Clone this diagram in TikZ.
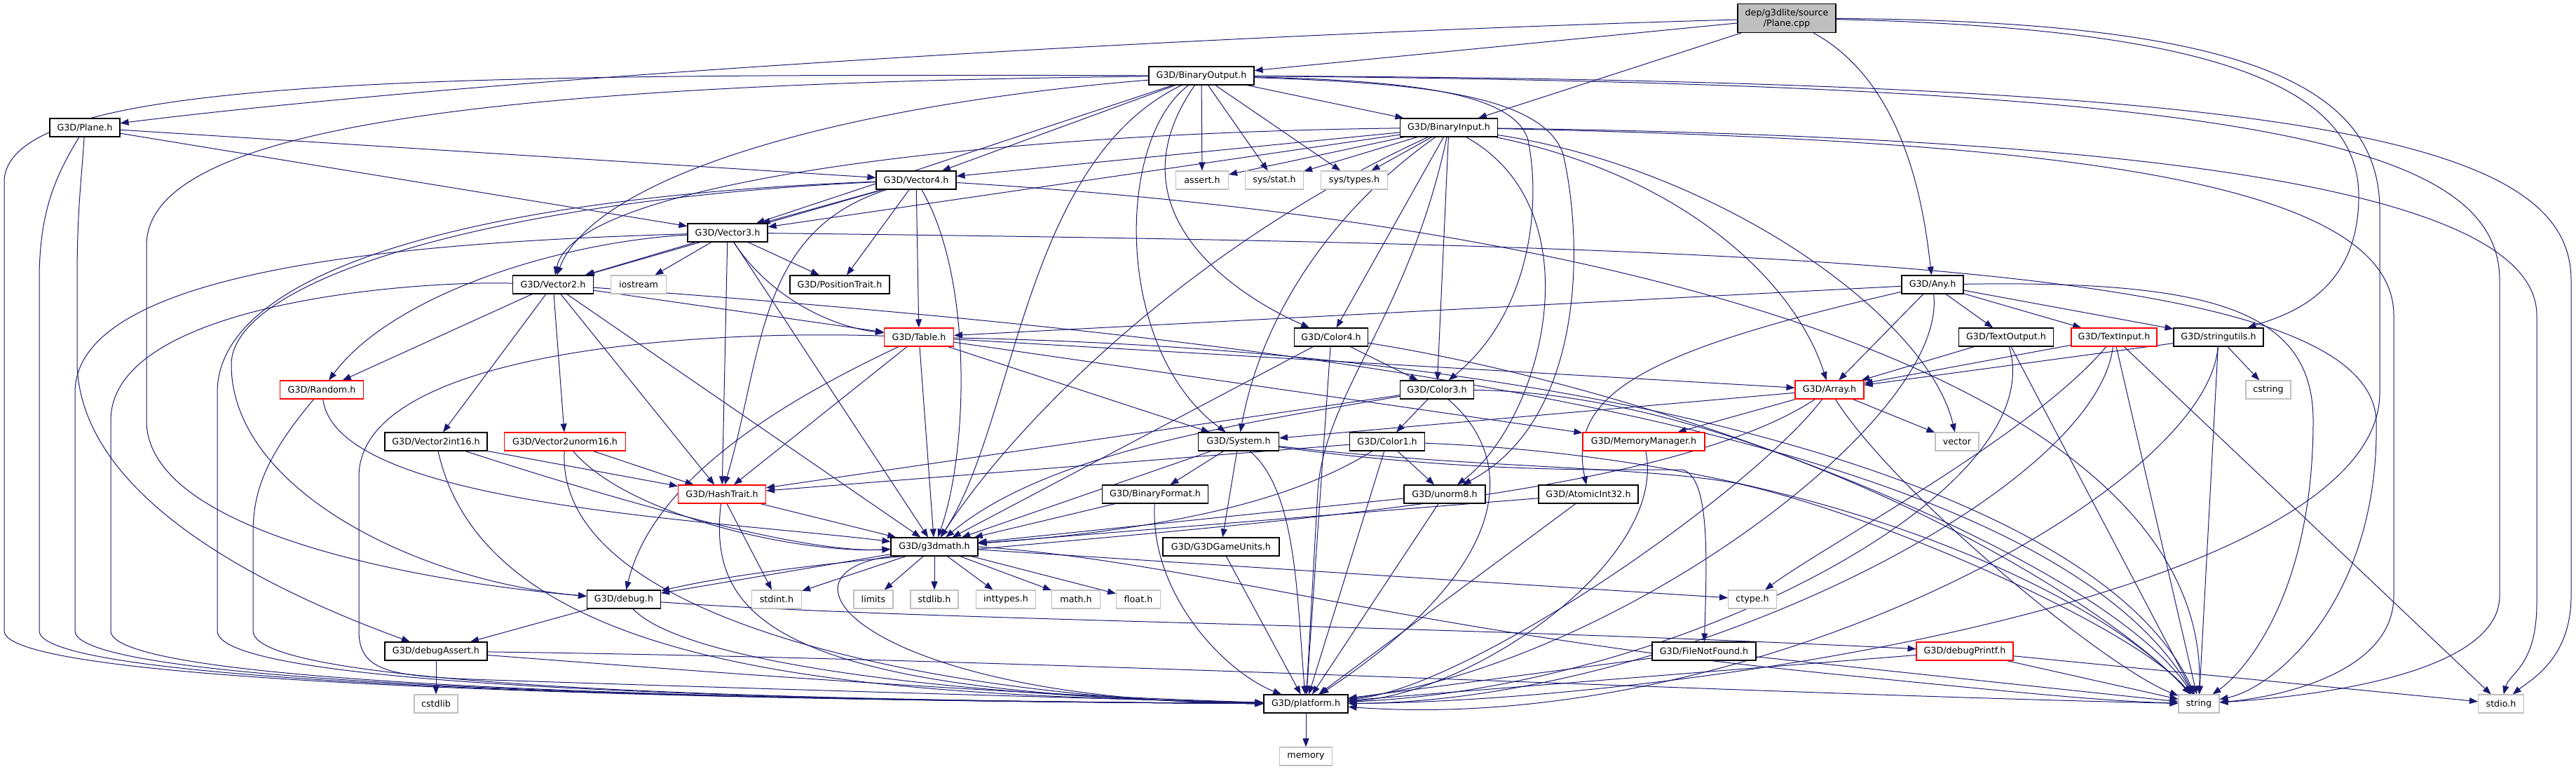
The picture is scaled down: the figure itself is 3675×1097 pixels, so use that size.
\documentclass[tikz,border=0pt]{standalone}
\usepackage{fontspec}
\setmainfont{DejaVu Sans}
\usetikzlibrary{arrows.meta}
\definecolor{edgec}{HTML}{191970}
\definecolor{lgray}{HTML}{BFBFBF}
\pgfdeclarelayer{edgelayer}
\pgfsetlayers{edgelayer,main}
\tikzset{
  nd/.style={draw=black, fill=white, line width=1.1pt, minimum height=26pt, inner sep=0pt, font=\fontsize{12.7}{15}\selectfont, text=black},
  rednd/.style={nd, draw=red},
  sysnd/.style={nd, draw=lgray},
  rootnd/.style={nd, fill=lgray, align=center, minimum height=41pt},
  e/.style={draw=edgec, line width=1pt, -{Triangle[length=12pt,width=9pt]}},
}
\newcommand{\mknode}[6]{\node[#1, minimum width=#5pt] (#2) at (#3,#4) {#6};}
\begin{document}
\begin{tikzpicture}[x=1pt,y=-1pt]
\useasboundingbox (0,0) rectangle (3675,1097);
% ---------------- nodes
\mknode{rootnd}{cpp}{2549}{26}{140}{dep/g3dlite/source\\/Plane.cpp}
\mknode{nd}{bout}{1714}{108}{150}{G3D/BinaryOutput.h}
\mknode{nd}{bin}{2067}{182}{139}{G3D/BinaryInput.h}
\mknode{nd}{planeh}{121}{182}{100}{G3D/Plane.h}
\mknode{nd}{v4}{1307}{257}{114}{G3D/Vector4.h}
\mknode{sysnd}{assert}{1715}{257}{75}{assert.h}
\mknode{sysnd}{sysstat}{1818}{257}{83}{sys/stat.h}
\mknode{sysnd}{systypes}{1932}{257}{95}{sys/types.h}
\mknode{nd}{v3}{1038}{332}{114}{G3D/Vector3.h}
\mknode{nd}{v2}{789}{406}{115}{G3D/Vector2.h}
\mknode{sysnd}{iostream}{911}{406}{79}{iostream}
\mknode{nd}{postrait}{1198}{406}{142}{G3D/PositionTrait.h}
\mknode{nd}{any}{2757}{406}{88}{G3D/Any.h}
\mknode{rednd}{table}{1311}{481}{99}{G3D/Table.h}
\mknode{nd}{c4}{1899}{481}{105}{G3D/Color4.h}
\mknode{nd}{textout}{2862}{481}{135}{G3D/TextOutput.h}
\mknode{rednd}{textin}{3016}{481}{122}{G3D/TextInput.h}
\mknode{nd}{strutil}{3165}{481}{128}{G3D/stringutils.h}
\mknode{rednd}{random}{459}{556}{119}{G3D/Random.h}
\mknode{nd}{c3}{2050}{556}{105}{G3D/Color3.h}
\mknode{rednd}{array}{2610}{556}{98}{G3D/Array.h}
\mknode{sysnd}{cstring}{3236}{556}{64}{cstring}
\mknode{nd}{v2i16}{622}{630}{146}{G3D/Vector2int16.h}
\mknode{rednd}{v2u16}{806}{630}{173}{G3D/Vector2unorm16.h}
\mknode{nd}{system}{1767}{630}{115}{G3D/System.h}
\mknode{nd}{c1}{1979}{630}{107}{G3D/Color1.h}
\mknode{rednd}{memmgr}{2345}{630}{174}{G3D/MemoryManager.h}
\mknode{sysnd}{vector}{2792}{630}{62}{vector}
\mknode{rednd}{hash}{1030}{705}{125}{G3D/HashTrait.h}
\mknode{nd}{binfmt}{1648}{705}{151}{G3D/BinaryFormat.h}
\mknode{nd}{unorm8}{2061}{705}{116}{G3D/unorm8.h}
\mknode{nd}{atomic}{2266}{705}{142}{G3D/AtomicInt32.h}
\mknode{nd}{g3dmath}{1333}{780}{124}{G3D/g3dmath.h}
\mknode{nd}{gameunits}{1742}{780}{166}{G3D/G3DGameUnits.h}
\mknode{nd}{debug}{890}{855}{105}{G3D/debug.h}
\mknode{sysnd}{stdint}{1108}{855}{71}{stdint.h}
\mknode{sysnd}{limits}{1246}{855}{56}{limits}
\mknode{sysnd}{stdlib}{1333}{855}{68}{stdlib.h}
\mknode{sysnd}{inttypes}{1435}{855}{85}{inttypes.h}
\mknode{sysnd}{math}{1535}{855}{69}{math.h}
\mknode{sysnd}{float}{1624}{855}{63}{float.h}
\mknode{sysnd}{ctype}{2500}{855}{69}{ctype.h}
\mknode{nd}{debugassert}{622}{929}{146}{G3D/debugAssert.h}
\mknode{nd}{filenotfound}{2431}{929}{148}{G3D/FileNotFound.h}
\mknode{rednd}{debugprintf}{2803}{929}{138}{G3D/debugPrintf.h}
\mknode{nd}{platform}{1863}{1004}{120}{G3D/platform.h}
\mknode{sysnd}{cstdlib}{622}{1004}{62}{cstdlib}
\mknode{sysnd}{string}{3137}{1004}{58}{string}
\mknode{sysnd}{stdio}{3568}{1004}{65}{stdio.h}
\mknode{sysnd}{memory}{1863}{1079}{75}{memory}
% ---------------- edges
\begin{pgfonlayer}{edgelayer}
% Plane.cpp
\draw[e] (cpp) .. controls (1700,50) and (700,110) .. (planeh);
\draw[e] (cpp) -- (bout);
\draw[e] (cpp) -- (bin);
\draw[e] (cpp) .. controls (2720,120) and (2745,300) .. (any);
\draw[e] (cpp) .. controls (3150,40) and (3365,120) .. (3365,280) .. controls (3365,420) and (3260,450) .. (strutil);
\draw[e] (cpp) .. controls (3200,30) and (3395,120) .. (3395,300) -- (3395,560) .. controls (3395,850) and (2400,1000) .. (platform);
% Plane.h
\draw[e] (planeh) -- (v3);
\draw[e] (planeh) -- (v4);
\draw[e] (planeh) .. controls (80,250) and (56,300) .. (56,400) -- (56,900) .. controls (56,985) and (1200,1000) .. (platform);
\draw[e] (planeh) .. controls (116,260) and (110,300) .. (110,400) -- (110,520) .. controls (115,700) and (350,830) .. (debugassert);
% BinaryOutput
\draw[e] (bout) -- (bin);
\draw[e] (bout) -- (assert);
\draw[e] (bout) -- (sysstat);
\draw[e] (bout) -- (systypes);
\draw[e] (bout) -- (v4);
\draw[e] (bout) -- (v3);
\draw[e] (bout) .. controls (1200,150) and (850,250) .. (v2);
\draw[e] (bout) .. controls (1580,300) and (1760,420) .. (c4);
\draw[e] (bout) .. controls (2000,115) and (2160,130) .. (2180,200) .. controls (2200,300) and (2180,450) .. (c3);
\draw[e] (bout) .. controls (2000,118) and (2200,130) .. (2230,220) .. controls (2260,350) and (2260,600) .. (unorm8);
\draw[e] (bout) .. controls (1590,200) and (1590,500) .. (system);
\draw[e] (bout) .. controls (1460,230) and (1450,600) .. (g3dmath);
\draw[e] (bout) .. controls (700,120) and (209,180) .. (209,350) -- (209,600) .. controls (209,760) and (600,830) .. (debug);
\draw[e] (bout) .. controls (600,105) and (6,110) .. (6,260) -- (6,900) .. controls (6,985) and (1200,1000) .. (platform);
\draw[e] (bout) .. controls (3200,120) and (3566,200) .. (3566,400) -- (3566,850) .. controls (3566,950) and (3350,990) .. (string);
\draw[e] (bout) .. controls (3300,115) and (3668,200) .. (3668,400) -- (3668,850) .. controls (3668,940) and (3610,970) .. (stdio);
% BinaryInput
\draw[e] (bin) -- (assert);
\draw[e] (bin) -- (sysstat);
\draw[e] (bin) -- (systypes);
\draw[e] (bin) .. controls (2450,240) and (2750,450) .. (vector);
\draw[e] (bin) .. controls (3000,195) and (3619,260) .. (3619,450) -- (3619,860) .. controls (3619,950) and (3580,960) .. (stdio);
\draw[e] (bin) .. controls (2900,200) and (3415,250) .. (3415,450) -- (3415,850) .. controls (3415,960) and (3250,995) .. (string);
\draw[e] (bin) .. controls (2010,450) and (1890,560) .. (1880,700) -- (platform);
\draw[e] (bin) .. controls (2280,300) and (2200,600) .. (unorm8);
\draw[e] (bin) .. controls (2400,250) and (2560,400) .. (array);
\draw[e] (bin) -- (c4);
\draw[e] (bin) -- (c3);
\draw[e] (bin) -- (v4);
\draw[e] (bin) -- (v3);
\draw[e] (bin) .. controls (1400,190) and (820,260) .. (v2);
\draw[e] (bin) .. controls (1700,350) and (1450,600) .. (g3dmath);
\draw[e] (bin) .. controls (1900,300) and (1800,450) .. (system);
% Vector4
\draw[e] (v4) -- (v3);
\draw[e] (v4) -- (v2);
\draw[e] (v4) -- (table);
\draw[e] (v4) .. controls (1080,330) and (1090,500) .. (hash);
\draw[e] (v4) -- (postrait);
\draw[e] (v4) .. controls (1390,400) and (1380,650) .. (g3dmath);
\draw[e] (v4) .. controls (700,280) and (310,380) .. (310,560) -- (310,900) .. controls (310,985) and (1200,1000) .. (platform);
\draw[e] (v4) .. controls (700,285) and (330,400) .. (330,520) .. controls (330,700) and (600,830) .. (debug);
\draw[e] (v4) .. controls (2500,330) and (3150,600) .. (string);
% Vector3
\draw[e] (v3) -- (v2);
\draw[e] (v3) -- (iostream);
\draw[e] (v3) -- (postrait);
\draw[e] (v3) .. controls (1095,420) and (1180,465) .. (table);
\draw[e] (v3) -- (hash);
\draw[e] (v3) -- (g3dmath);
\draw[e] (v3) .. controls (800,345) and (560,420) .. (random);
\draw[e] (v3) .. controls (600,345) and (107,380) .. (107,560) -- (107,900) .. controls (107,985) and (1200,1000) .. (platform);
\draw[e] (v3) .. controls (2600,350) and (3380,380) .. (3390,600) .. controls (3395,850) and (3250,980) .. (string);
% Vector2
\draw[e] (v2) -- (random);
\draw[e] (v2) -- (v2i16);
\draw[e] (v2) -- (v2u16);
\draw[e] (v2) -- (hash);
\draw[e] (v2) -- (g3dmath);
\draw[e] (v2) -- (table);
\draw[e] (v2) .. controls (600,400) and (158,430) .. (158,600) -- (158,900) .. controls (158,985) and (1200,1000) .. (platform);
\draw[e] (v2) .. controls (1800,480) and (2900,600) .. (string);
% Random
\draw[e] (random) .. controls (480,720) and (1000,740) .. (g3dmath);
\draw[e] (random) .. controls (380,650) and (361,700) .. (361,760) -- (361,900) .. controls (361,985) and (1200,1000) .. (platform);
% Vector2int16 / unorm16
\draw[e] (v2i16) -- (hash);
\draw[e] (v2i16) .. controls (900,720) and (1150,790) .. (g3dmath);
\draw[e] (v2i16) .. controls (700,980) and (1300,990) .. (platform);
\draw[e] (v2u16) -- (hash);
\draw[e] (v2u16) .. controls (900,740) and (1150,790) .. (g3dmath);
\draw[e] (v2u16) .. controls (790,900) and (1400,1000) .. (platform);
% Table
\draw[e] (table) -- (array);
\draw[e] (table) .. controls (1100,580) and (930,690) .. (debug);
\draw[e] (table) -- (system);
\draw[e] (table) -- (g3dmath);
\draw[e] (table) -- (hash);
\draw[e] (table) -- (memmgr);
\draw[e] (table) .. controls (2300,500) and (3000,700) .. (string);
\draw[e] (table) .. controls (1000,470) and (512,500) .. (512,680) -- (512,900) .. controls (512,960) and (560,965) .. (700,970) .. controls (1000,980) and (1500,995) .. (platform);
% Color4 / Color3 / Color1
\draw[e] (c4) -- (c3);
\draw[e] (c4) -- (g3dmath);
\draw[e] (c4) -- (platform);
\draw[e] (c4) .. controls (2400,560) and (3000,800) .. (string);
\draw[e] (c3) -- (c1);
\draw[e] (c3) -- (hash);
\draw[e] (c3) .. controls (1800,600) and (1500,640) .. (g3dmath);
\draw[e] (c3) .. controls (2160,650) and (2170,800) .. (platform);
\draw[e] (c3) .. controls (2500,560) and (3000,850) .. (string);
\draw[e] (c1) -- (unorm8);
\draw[e] (c1) -- (hash);
\draw[e] (c1) .. controls (1820,730) and (1600,760) .. (g3dmath);
\draw[e] (c1) -- (platform);
\draw[e] (c1) .. controls (2600,655) and (3000,850) .. (string);
% unorm8 / AtomicInt32
\draw[e] (unorm8) -- (g3dmath);
\draw[e] (unorm8) -- (platform);
\draw[e] (atomic) -- (g3dmath);
\draw[e] (atomic) -- (platform);
% Any
\draw[e] (any) -- (table);
\draw[e] (any) -- (array);
\draw[e] (any) .. controls (2350,500) and (2235,560) .. (atomic);
\draw[e] (any) -- (textout);
\draw[e] (any) -- (textin);
\draw[e] (any) -- (strutil);
\draw[e] (any) .. controls (2780,600) and (2300,950) .. (platform);
\draw[e] (any) .. controls (3150,400) and (3300,440) .. (3300,600) .. controls (3300,850) and (3200,960) .. (string);
% TextOutput / TextInput / stringutils
\draw[e] (textout) -- (array);
\draw[e] (textout) .. controls (2930,700) and (2400,980) .. (platform);
\draw[e] (textout) -- (string);
\draw[e] (textin) -- (array);
\draw[e] (textin) .. controls (2900,620) and (2600,780) .. (ctype);
\draw[e] (textin) .. controls (2990,700) and (2400,1000) .. (platform);
\draw[e] (textin) -- (string);
\draw[e] (textin) -- (stdio);
\draw[e] (strutil) -- (array);
\draw[e] (strutil) -- (cstring);
\draw[e] (strutil) .. controls (3150,700) and (2500,1050) .. (platform);
\draw[e] (strutil) -- (string);
% Array
\draw[e] (array) -- (vector);
\draw[e] (array) -- (memmgr);
\draw[e] (array) -- (system);
\draw[e] (array) .. controls (2300,760) and (1300,760) .. (debug);
\draw[e] (array) .. controls (2500,700) and (2100,980) .. (platform);
\draw[e] (array) .. controls (2700,700) and (3000,950) .. (string);
% System
\draw[e] (system) -- (binfmt);
\draw[e] (system) -- (gameunits);
\draw[e] (system) -- (g3dmath);
\draw[e] (system) .. controls (1850,700) and (1850,850) .. (platform);
\draw[e] (system) .. controls (2100,675) and (2300,670) .. (2400,670) .. controls (2440,680) and (2435,800) .. (filenotfound);
\draw[e] (system) .. controls (2100,668) and (2350,665) .. (2480,690) .. controls (2700,740) and (3050,900) .. (string);
% MemoryManager, HashTrait, BinaryFormat, G3DGameUnits
\draw[e] (memmgr) .. controls (2380,800) and (2100,990) .. (platform);
\draw[e] (hash) -- (g3dmath);
\draw[e] (hash) -- (stdint);
\draw[e] (hash) .. controls (1010,880) and (1100,990) .. (platform);
\draw[e] (binfmt) -- (g3dmath);
\draw[e] (binfmt) .. controls (1640,850) and (1750,960) .. (platform);
\draw[e] (gameunits) -- (platform);
% g3dmath
\draw[e] (g3dmath) -- (debug);
\draw[e] (g3dmath) -- (stdint);
\draw[e] (g3dmath) -- (limits);
\draw[e] (g3dmath) -- (stdlib);
\draw[e] (g3dmath) -- (inttypes);
\draw[e] (g3dmath) -- (math);
\draw[e] (g3dmath) -- (float);
\draw[e] (g3dmath) -- (ctype);
\draw[e] (g3dmath.south west) .. controls (1080,820) and (1250,1000) .. (platform);
\draw[e] (g3dmath.east) .. controls (1700,800) and (2000,900) .. (2600,960) .. controls (2900,990) and (3000,1000) .. (string);
% debug family
\draw[e] (debug) -- (debugassert);
\draw[e] (debug) .. controls (980,950) and (1400,995) .. (platform);
\draw[e] (debug) .. controls (1300,885) and (2000,890) .. (debugprintf);
\draw[e] (debugassert) -- (cstdlib);
\draw[e] (debugassert) .. controls (900,950) and (1400,990) .. (platform);
\draw[e] (debugassert) .. controls (1500,940) and (2500,990) .. (string);
\draw[e] (filenotfound) -- (platform);
\draw[e] (filenotfound) -- (string);
\draw[e] (debugprintf) -- (platform);
\draw[e] (debugprintf) -- (string);
\draw[e] (debugprintf) -- (stdio);
\draw[e] (platform) -- (memory);
\end{pgfonlayer}
\end{tikzpicture}
\end{document}
